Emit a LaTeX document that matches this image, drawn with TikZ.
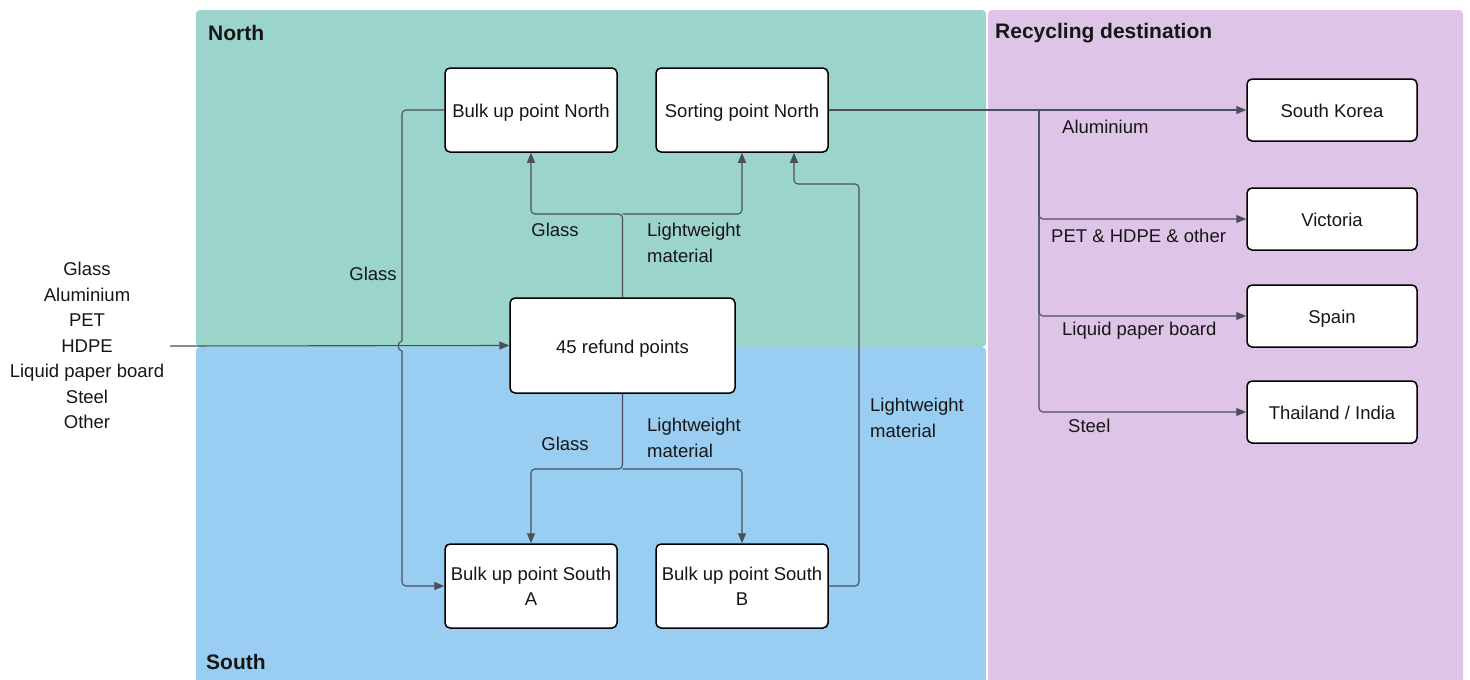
\documentclass[tikz,border=0pt]{standalone}
\usepackage{fontspec}
\setmainfont{Liberation Sans}
\usetikzlibrary{arrows.meta}
\definecolor{northbg}{HTML}{9BD4CB}
\definecolor{southbg}{HTML}{99CDF2}
\definecolor{destbg}{HTML}{DEC5E8}
\definecolor{wire}{HTML}{4A4F5B}
\definecolor{ink}{HTML}{161616}
\begin{document}
\begin{tikzpicture}[x=1pt,y=-1pt,
  region/.style={rounded corners=4pt, draw=none},
  box/.style={draw=black, line width=1.5pt, rounded corners=5pt, fill=white,
    minimum width=172pt, minimum height=84pt, align=center, text=ink,
    font=\fontsize{18.5}{26}\selectfont, inner sep=0pt},
  oneline/.style={text height=15.5pt, text depth=0pt},
  destbox/.style={box, oneline, minimum width=170pt, minimum height=62pt},
  conn/.style={draw=wire, line width=1.1pt, rounded corners=4pt,
    -{Triangle[length=10pt,width=8pt]}},
  wire/.style={draw=wire, line width=1.1pt, rounded corners=4pt},
  lbl/.style={text=ink, font=\fontsize{18.5}{25.5}\selectfont, inner sep=0pt, align=left},
  head/.style={text=ink, font=\fontsize{21}{24}\selectfont\bfseries, inner sep=0pt, anchor=west}]
\useasboundingbox (0,0) rectangle (1470,680);

% swim lanes
\fill[northbg, region] (196,10) rectangle (986,347);
\fill[southbg, region] (196,347) rectangle (986,690);
\fill[destbg, region] (988,10) rectangle (1463,690);
\node[head] (hnorth) at (208,33) {North};
\node[head] (hsouth) at (206,662) {South};
\node[head] (hdest) at (995,33) {Recycling destination};

% process boxes
\node[box, oneline] (bun) at (531,110) {Bulk up point North};
\node[box, oneline] (spn) at (742,110) {Sorting point North};
\node[box, oneline, minimum width=225pt, minimum height=95pt] (ref) at (622.5,345.5) {45 refund points};
\node[box] (bsa) at (531,586) {Bulk up point South\\[-1pt]A};
\node[box] (bsb) at (742,586) {Bulk up point South\\[-1pt]B};

% destinations
\node[destbox] (sk) at (1332,110) {South Korea};
\node[destbox] (vic) at (1332,219) {Victoria};
\node[destbox] (spa) at (1332,316) {Spain};
\node[destbox] (tha) at (1332,412) {Thailand / India};

% incoming material streams
\node[lbl, align=center] (mats) at (87,345.5) {Glass\\Aluminium\\PET\\HDPE\\Liquid paper board\\Steel\\Other};
\coordinate (src) at (170,346);
\draw[conn] (src) -- (ref.west);

% refund points up to the north
\coordinate (tj) at (622.5,214);
\draw[conn] (ref.north) -- (tj) -| (bun.south);
\draw[conn] (tj) -| (spn.south);
\node[lbl] (lg1) at (555,230) {Glass};
\node[lbl, anchor=west] (lw1) at (647,243) {Lightweight\\material};

% refund points down to the south
\coordinate (bj) at (622.5,469);
\draw[conn] (ref.south) -- (bj) -| (bsa.north);
\draw[conn] (bj) -| (bsb.north);
\node[lbl] (lg2) at (565,444) {Glass};
\node[lbl, anchor=west] (lw2) at (647,438) {Lightweight\\material};

% glass from bulk up north to bulk up south A, hopping over the inflow
\coordinate (gcorner) at (402,110);
\coordinate (hopa) at (402,341);
\coordinate (hopb) at (402,351);
\coordinate (gbottom) at (402,586);
\draw[wire] (bun.west) -- (gcorner) -- (hopa);
\draw[wire] (hopa) .. controls (397,341) and (397,351) .. (hopb);
\draw[conn] (hopb) -- (gbottom) -- (bsa.west);
\node[lbl] (lg3) at (373,274) {Glass};

% lightweight material from south B to sorting point north
\coordinate (lwa) at (859,184);
\draw[conn] (bsb.east) -| (lwa) -| ([xshift=52pt]spn.south);
\node[lbl, anchor=west] (lw3) at (870,418) {Lightweight\\material};

% sorted outputs
\coordinate (rj) at (1039,110);
\draw[conn] (spn.east) -- (sk.west);
\draw[conn] (rj) |- (vic.west);
\draw[conn] (rj) |- (spa.west);
\draw[conn] (rj) |- (tha.west);
\node[lbl, anchor=west] (la) at (1062,127) {Aluminium};
\node[lbl, anchor=west] (lp) at (1051,236) {PET \& HDPE \& other};
\node[lbl, anchor=west] (ll) at (1062,331) {Liquid paper board};
\node[lbl, anchor=west] (ls) at (1068,426) {Steel};
\end{tikzpicture}
\end{document}
